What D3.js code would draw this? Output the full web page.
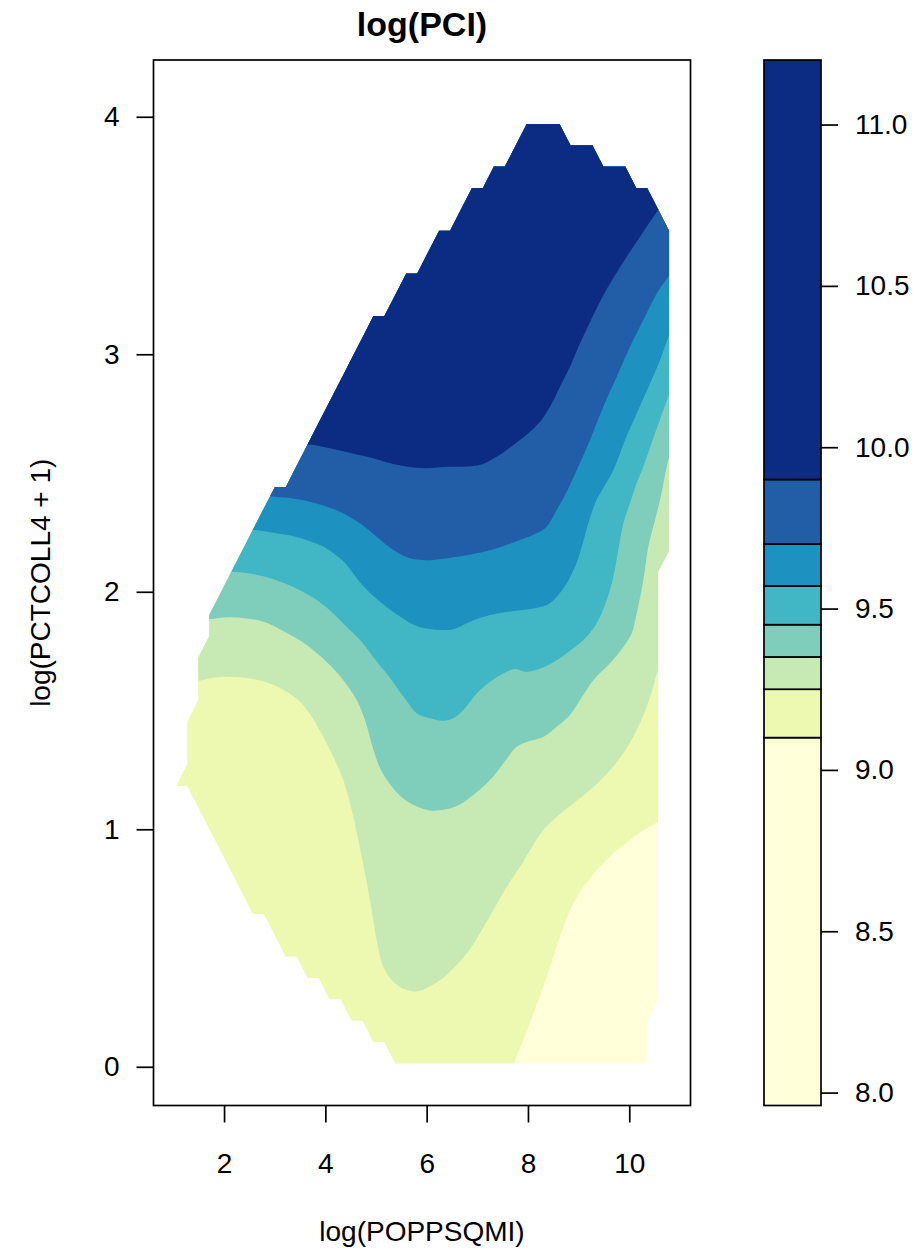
<!DOCTYPE html>
<html>
<head>
<meta charset="utf-8">
<title>log(PCI)</title>
<script src="https://d3js.org/d3.v7.min.js"></script>
<style>
  body { margin: 0; background: #fff; }
  text { font-family: "Liberation Sans", Arial, Helvetica, sans-serif; }
</style>
</head>
<body>
<div id="chart"></div>
<script>
// breaks of log(PCI), same as the colour key
var levels = [7.96, 9.10, 9.25, 9.35, 9.45, 9.57, 9.70, 9.90, 11.20];
var bandColors = ["#ffffd9", "#edf8b1", "#c7e9b4", "#7fcdbb", "#41b6c4", "#1d91c0", "#225ea8", "#0c2c84"];

var xTicks = [2, 4, 6, 8, 10];
var yTicks = [0, 1, 2, 3, 4];
var keyTicks = [8.0, 8.5, 9.0, 9.5, 10.0, 10.5, 11.0];

// prediction grid; per row the first and last column that has a value
var gridX0 = 1.057, gridDX = 0.2162, gridNX = 46;
var gridY0 = 0.0143, gridDY = 0.0899;
var rowFirst = [20, 18, 16, 14, 12, 10, 9, 7, 6, 5, 4, 3, 2, 0, 1, 1, 1, 2, 2, 2, 3, 3, 4, 5, 6,
                7, 8, 9, 11, 12, 13, 14, 15, 16, 17, 18, 20, 21, 23, 24, 26, 27, 29, 31, 32];
var rowLast = [43, 43, 43, 44, 44, 44, 44, 44, 44, 44, 44, 44, 44, 44, 44, 44, 44, 44, 44, 44, 44, 44, 44, 44, 45,
               45, 45, 45, 45, 45, 45, 45, 45, 45, 45, 45, 45, 45, 45, 45, 44, 43, 41, 38, 35];

// contour lines [log(POPPSQMI), log(PCTCOLL4 + 1)], one per break
var line910 = [[7.665, -0.077], [7.725, 0.014], [7.908, 0.112], [8.106, 0.225], [8.303, 0.337], [8.501, 0.463],
  [8.698, 0.589], [8.895, 0.688], [9.093, 0.758], [9.357, 0.828], [9.685, 0.899], [10.015, 0.955],
  [10.345, 1.004], [10.574, 1.032], [11.002, 1.081]];
var line925 = [[1.229, 1.624], [1.492, 1.625], [1.788, 1.638], [2.117, 1.642], [2.512, 1.635], [2.907, 1.614],
  [3.237, 1.579], [3.500, 1.537], [3.697, 1.485], [3.960, 1.389], [4.157, 1.305], [4.354, 1.207],
  [4.520, 1.081], [4.651, 0.955], [4.783, 0.814], [4.915, 0.660], [5.014, 0.533], [5.144, 0.421],
  [5.342, 0.358], [5.606, 0.323], [5.869, 0.320], [6.264, 0.365], [6.526, 0.414], [6.791, 0.477],
  [7.053, 0.562], [7.316, 0.660], [7.581, 0.758], [7.843, 0.842], [8.040, 0.912], [8.303, 0.997],
  [8.568, 1.053], [8.895, 1.109], [9.225, 1.165], [9.620, 1.249], [9.883, 1.320], [10.147, 1.418],
  [10.345, 1.516], [10.475, 1.600], [10.574, 1.670], [11.002, 1.776]];
var line935 = [[1.426, 1.881], [1.709, 1.885], [2.078, 1.893], [2.447, 1.888], [2.842, 1.870], [3.237, 1.826],
  [3.632, 1.776], [4.027, 1.704], [4.354, 1.628], [4.619, 1.544], [4.783, 1.460], [4.921, 1.355],
  [5.079, 1.258], [5.276, 1.190], [5.533, 1.131], [5.790, 1.098], [6.066, 1.079], [6.362, 1.083],
  [6.635, 1.102], [6.921, 1.144], [7.251, 1.207], [7.513, 1.277], [7.778, 1.347], [7.975, 1.368],
  [8.303, 1.389], [8.568, 1.432], [8.830, 1.481], [9.028, 1.544], [9.290, 1.628], [9.620, 1.699],
  [9.883, 1.768], [10.048, 1.825], [10.147, 1.909], [10.277, 2.049], [10.376, 2.189], [10.508, 2.302],
  [10.607, 2.386], [10.706, 2.491], [10.791, 2.568], [11.101, 2.702]];
var line945 = [[1.881, 2.083], [2.137, 2.084], [2.512, 2.077], [2.868, 2.060], [3.367, 2.020], [3.829, 1.965],
  [4.151, 1.910], [4.418, 1.853], [4.684, 1.797], [5.039, 1.700], [5.276, 1.637], [5.592, 1.544],
  [5.803, 1.489], [6.066, 1.467], [6.329, 1.457], [6.526, 1.467], [6.724, 1.502], [6.988, 1.572],
  [7.251, 1.621], [7.513, 1.656], [7.744, 1.675], [7.975, 1.663], [8.238, 1.677], [8.568, 1.712],
  [8.895, 1.762], [9.160, 1.811], [9.357, 1.867], [9.555, 1.965], [9.685, 2.063], [9.784, 2.176],
  [9.883, 2.288], [10.035, 2.386], [10.153, 2.462], [10.277, 2.526], [10.508, 2.667], [10.771, 2.821],
  [11.002, 2.955]];
var line957 = [[2.315, 2.256], [2.611, 2.260], [3.006, 2.247], [3.448, 2.230], [3.796, 2.205], [4.072, 2.176],
  [4.388, 2.121], [4.694, 2.037], [5.039, 1.965], [5.387, 1.909], [5.803, 1.856], [6.066, 1.843],
  [6.287, 1.839], [6.526, 1.842], [6.856, 1.874], [7.251, 1.902], [7.711, 1.919], [8.106, 1.930],
  [8.370, 1.944], [8.568, 1.979], [8.765, 2.035], [8.929, 2.105], [9.061, 2.189], [9.192, 2.288],
  [9.324, 2.372], [9.462, 2.428], [9.685, 2.512], [9.916, 2.639], [10.147, 2.751], [10.410, 2.877],
  [10.607, 2.976], [10.791, 3.081], [11.042, 3.207]];
var line970 = [[2.670, 2.411], [2.998, 2.400], [3.367, 2.393], [3.829, 2.372], [4.289, 2.337], [4.684, 2.288],
  [5.014, 2.232], [5.342, 2.176], [5.671, 2.141], [6.066, 2.133], [6.526, 2.145], [6.988, 2.162],
  [7.383, 2.183], [7.843, 2.218], [8.173, 2.246], [8.370, 2.274], [8.568, 2.344], [8.732, 2.407],
  [8.963, 2.512], [9.225, 2.639], [9.488, 2.779], [9.752, 2.905], [10.015, 3.032], [10.277, 3.144],
  [10.542, 3.256], [10.771, 3.326], [11.101, 3.418]];
var line990 = [[3.302, 2.597], [3.652, 2.620], [4.092, 2.604], [4.520, 2.583], [4.947, 2.562], [5.342, 2.538],
  [5.869, 2.521], [6.461, 2.526], [6.889, 2.529], [7.113, 2.538], [7.383, 2.568], [7.711, 2.618],
  [8.007, 2.667], [8.238, 2.716], [8.435, 2.779], [8.633, 2.863], [8.830, 2.947], [9.028, 3.046],
  [9.259, 3.151], [9.488, 3.249], [9.719, 3.333], [9.950, 3.411], [10.212, 3.495], [10.410, 3.558],
  [10.574, 3.607], [10.903, 3.700]];

var contourLines = [line910, line925, line935, line945, line957, line970, line990];

var width = 924, height = 1256;
var plotL = 153.5, plotR = 690.5, plotT = 60, plotB = 1105.5;
var keyL = 764, keyR = 821;
var fontSize = 28;

var svg = d3.select("#chart").append("svg")
  .attr("width", width)
  .attr("height", height);

var x = d3.scaleLinear().domain([0.607, 11.209]).range([plotL, plotR]);
var y = d3.scaleLinear().domain([-0.163, 4.239]).range([plotB, plotT]);
var k = d3.scaleLinear().domain([levels[0], levels[levels.length - 1]]).range([plotB, plotT]);

// region of the grid that has values, traced with d3.contours
var gridNY = rowFirst.length;
var padW = gridNX + 2, padH = gridNY + 2;
var inside = new Array(padW * padH).fill(0);
rowFirst.forEach(function(first, j) {
  for (var i = first; i <= rowLast[j]; i++) inside[(j + 1) * padW + i + 1] = 1;
});
var maskShape = d3.contours().size([padW, padH]).thresholds([1])(inside)[0];
var gridPath = d3.geoPath(d3.geoTransform({
  point: function(gx, gy) {
    this.stream.point(x(gridX0 + (gx - 1.5) * gridDX), y(gridY0 + (gy - 1.5) * gridDY));
  }
}));

svg.append("defs").append("clipPath").attr("id", "mask")
  .append("path").attr("d", gridPath(maskShape));

var contourLine = d3.line()
  .x(function(d) { return x(d[0]); })
  .y(function(d) { return y(d[1]); })
  .curve(d3.curveCatmullRom.alpha(0.5));

var xd = x.domain(), yd = y.domain();
function superLevel(pts, wrapLeft) {
  var corners = [[xd[1], yd[1]], [xd[0], yd[1]]];
  if (wrapLeft) corners.push([xd[0], yd[0]]);
  return contourLine(pts) + corners.map(function(c) { return "L" + x(c[0]) + "," + y(c[1]); }).join("") + "Z";
}

var bands = svg.append("g");
bands.append("path")
  .attr("d", gridPath(maskShape))
  .attr("fill", bandColors[0]);

contourLines.forEach(function(pts, i) {
  bands.append("path")
    .attr("d", superLevel(pts, i === 0))
    .attr("fill", bandColors[i + 1])
    .attr("clip-path", "url(#mask)");
});

// axes
var xAxis = svg.append("g")
  .attr("transform", "translate(0," + plotB + ")")
  .call(d3.axisBottom(x).tickValues(xTicks).tickSize(17).tickPadding(30.5).tickFormat(d3.format("d")));
var yAxis = svg.append("g")
  .attr("transform", "translate(" + plotL + ",0)")
  .call(d3.axisLeft(y).tickValues(yTicks).tickSize(17).tickPadding(17).tickFormat(d3.format("d")));

svg.append("rect")
  .attr("x", plotL).attr("y", plotT)
  .attr("width", plotR - plotL).attr("height", plotB - plotT)
  .attr("fill", "none").attr("stroke", "#000").attr("stroke-width", 1.7);

// colour key
var key = svg.append("g");
key.selectAll("rect")
  .data(bandColors)
  .join("rect")
  .attr("x", keyL)
  .attr("width", keyR - keyL)
  .attr("y", function(d, i) { return k(levels[i + 1]); })
  .attr("height", function(d, i) { return k(levels[i]) - k(levels[i + 1]); })
  .attr("fill", function(d) { return d; })
  .attr("stroke", "#000")
  .attr("stroke-width", 1.7);

var kAxis = svg.append("g")
  .attr("transform", "translate(" + keyR + ",0)")
  .call(d3.axisRight(k).tickValues(keyTicks).tickSize(17).tickPadding(17).tickFormat(d3.format(".1f")));

[xAxis, yAxis, kAxis].forEach(function(a) {
  a.select(".domain").remove();
  a.selectAll(".tick line").attr("stroke", "#000").attr("stroke-width", 1.7);
  a.selectAll(".tick text")
    .attr("fill", "#000")
    .attr("font-size", fontSize)
    .attr("font-family", "'Liberation Sans', Arial, Helvetica, sans-serif");
});

// titles
svg.append("text")
  .attr("x", (plotL + plotR) / 2).attr("y", 36)
  .attr("text-anchor", "middle")
  .attr("font-size", 34).attr("font-weight", "bold")
  .text("log(PCI)");

svg.append("text")
  .attr("x", (plotL + plotR) / 2).attr("y", 1241)
  .attr("text-anchor", "middle")
  .attr("font-size", fontSize)
  .text("log(POPPSQMI)");

svg.append("text")
  .attr("transform", "translate(50," + (plotT + plotB) / 2 + ") rotate(-90)")
  .attr("text-anchor", "middle")
  .attr("font-size", fontSize)
  .text("log(PCTCOLL4 + 1)");
</script>
</body>
</html>
